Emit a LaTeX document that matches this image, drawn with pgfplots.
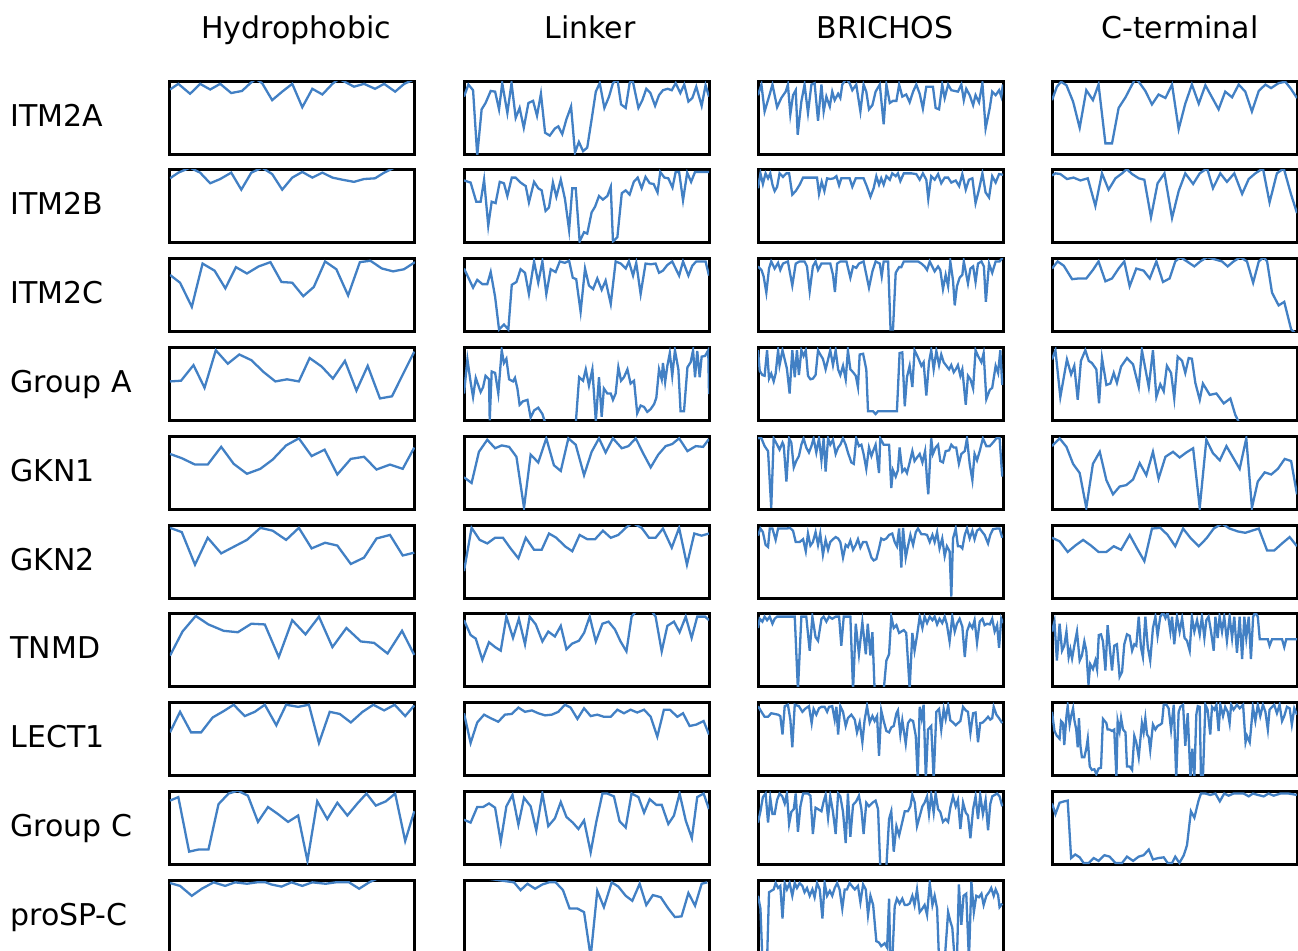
\documentclass[border=0pt]{standalone}
\usepackage{pgfplots}
\pgfplotsset{compat=1.18}
\usepackage{fontspec}
\setmainfont{DejaVu Sans}
\definecolor{lineblue}{RGB}{66,128,196}
\pgfplotsset{panel/.style={width=122.5pt,height=36.5pt,scale only axis,
  xmin=0,xmax=100,ymin=0,ymax=1.03,ticks=none,
  axis line style={line width=1.5pt},clip=true,anchor=north west}}
\newcommand{\panel}[3]{%
\begin{axis}[panel,at={(85pt+147pt*#1,-40.5pt-44.4pt*#2)}]
\addplot[color=lineblue,line width=1.15pt,mark=none] coordinates {#3};
\end{axis}}
\begin{document}
\fontsize{15}{18}\selectfont
\begin{tikzpicture}
\useasboundingbox (0,0) rectangle (649pt,-475pt);
\clip (0,0) rectangle (649pt,-475pt);
% titles
\node[anchor=base,inner sep=0pt] at (148pt,-19pt) {Hydrophobic};
\node[anchor=base,inner sep=0pt] at (295pt,-19pt) {Linker};
\node[anchor=base,inner sep=0pt] at (442.5pt,-19pt) {BRICHOS};
\node[anchor=base,inner sep=0pt] at (590pt,-19pt) {C-terminal};
\foreach \lab [count=\i from 0] in {ITM2A,ITM2B,ITM2C,Group A,GKN1,GKN2,TNMD,LECT1,Group C,proSP-C}{
  \node[anchor=base west,inner sep=0pt] at (5pt,-63pt-44.4pt*\i) {\lab};
}
% ---------- Hydrophobic
\panel{0}{0}{(0,0.91)(3.4,0.99)(8.2,0.85)(12.3,0.99)(16.4,0.91)(20.5,0.99)(25,0.86)(29.4,0.89)(32.8,1.0)(35,1.06)(37.6,1.0)(41.7,0.76)(45.8,0.88)(49.9,0.99)(54.0,0.66)(58.1,0.92)(62.2,0.84)(66.3,0.99)(69,1.06)(72.4,1.0)(75.1,0.95)(79.2,0.99)(83.7,0.92)(87.4,0.99)(91.9,0.88)(95.6,0.99)(100,1.06)}
\panel{0}{1}{(0,0.91)(3.4,0.99)(8.2,1.06)(12.3,0.99)(16.4,0.84)(20.5,0.90)(25,0.99)(29.1,0.75)(33.2,0.99)(37.6,1.06)(41.7,0.97)(45.8,0.75)(49.9,0.92)(54,1.0)(58.1,0.92)(62.2,0.99)(66.3,0.92)(70.4,0.89)(75.1,0.86)(79.2,0.90)(83.7,0.91)(87.4,0.99)(91.5,1.06)(95.6,1.06)(100,1.06)}
\panel{0}{2}{(0,0.80)(4.1,0.69)(8.9,0.35)(13.3,0.96)(18.2,0.86)(22.6,0.61)(26.9,0.91)(31.4,0.82)(36.2,0.92)(41,0.98)(45.5,0.70)(49.9,0.69)(54.4,0.50)(58.7,0.63)(63.3,0.99)(67.9,0.88)(72.7,0.51)(77.5,0.98)(81.8,1.0)(86.5,0.89)(91.1,0.85)(95.5,0.88)(100,0.98)}
\panel{0}{3}{(0,0.55)(4.5,0.56)(9.6,0.78)(14.1,0.46)(18.7,0.99)(23.6,0.80)(28.3,0.93)(33.2,0.85)(38.3,0.68)(43,0.55)(47.8,0.58)(52.6,0.55)(57,0.88)(61.9,0.76)(66.5,0.59)(71.4,0.84)(76.1,0.42)(80.7,0.77)(85.7,0.31)(90.6,0.34)(95.2,0.66)(99.7,0.97)}
\panel{0}{4}{(0,0.78)(4.8,0.72)(10.2,0.63)(15.4,0.63)(20.9,0.88)(26,0.64)(31.4,0.50)(36.9,0.57)(41.9,0.70)(47.4,0.90)(52.6,1.0)(57.8,0.75)(63.1,0.84)(68.3,0.49)(73.8,0.71)(79.2,0.74)(84.3,0.56)(89.8,0.63)(95,0.57)(99.7,0.87)}
\panel{0}{5}{(0,0.99)(4.8,0.93)(10.2,0.47)(15.4,0.85)(20.9,0.63)(26.4,0.73)(31.4,0.82)(36.9,0.99)(41.9,0.95)(47.4,0.82)(52.6,0.99)(57.8,0.70)(63.3,0.78)(68.3,0.74)(73.8,0.48)(79.2,0.57)(84.3,0.84)(89.8,0.89)(95,0.60)(99.7,0.64)}
\panel{0}{6}{(0,0.44)(5.1,0.78)(10.5,1.0)(15.7,0.88)(21.9,0.79)(27.7,0.77)(33.2,0.89)(38.7,0.88)(44.4,0.42)(49.9,0.94)(55.3,0.74)(60.8,0.99)(66.3,0.56)(72,0.83)(77.9,0.64)(83.3,0.62)(88.8,0.47)(94.7,0.79)(99.7,0.45)}
\panel{0}{7}{(0,0.61)(4.1,0.90)(8.6,0.61)(12.7,0.61)(17.4,0.82)(21.9,0.91)(26,1.0)(30.5,0.84)(34.6,0.90)(38.7,1.0)(43.4,0.71)(47.4,1.0)(52.3,0.97)(56.7,1.0)(60.8,0.46)(65.2,0.90)(69.3,0.87)(73.8,0.75)(78.6,0.90)(83,1.0)(87.4,0.92)(91.7,1.0)(96,0.84)(99.7,0.99)}
\panel{0}{8}{(0,0.90)(3.4,0.95)(7.8,0.18)(11.6,0.21)(15.7,0.21)(19.8,0.85)(23.9,1.0)(27.7,1.04)(31.8,0.97)(35.9,0.60)(40,0.81)(44.1,0.71)(48.2,0.60)(52.3,0.69)(56.1,0.05)(60.1,0.89)(64.2,0.64)(68.3,0.87)(72.4,0.69)(76.5,0.86)(80.2,1.0)(84,0.83)(88.1,0.89)(91.9,1.0)(96,0.33)(99.7,0.75)}
\panel{0}{9}{(0,0.99)(4.1,0.95)(8.9,0.81)(13,0.91)(17.8,1.0)(22.5,0.95)(26.6,1.0)(31.4,0.98)(35.5,1.0)(39,1.0)(41.4,0.97)(45.5,0.94)(49.6,1.0)(54,0.95)(58.1,1.0)(63.5,0.98)(67.6,1.0)(73.1,1.0)(77.2,0.91)(81.3,1.0)(85,1.06)(90,1.06)(100,1.06)}
% ---------- Linker
\panel{1}{0}{(0,0.81)(1.8,0.98)(3.7,0.90)(5.4,-0.02)(7.2,0.63)(8.8,0.72)(10.9,0.89)(12.7,0.88)(14.3,0.63)(15.6,1.0)(17.7,0.58)(19.4,1.0)(21.1,0.51)(22.7,0.65)(24.4,0.37)(26.3,0.72)(28.2,0.75)(29.8,0.54)(31.4,0.85)(33.1,0.30)(35,0.26)(37.1,0.36)(38.5,0.39)(40.1,0.28)(41.8,0.49)(43.7,0.67)(45.3,0.02)(46.9,0.17)(48.6,0.04)(50.3,0.09)(52.1,0.49)(53.8,0.88)(55.4,1.0)(57.3,0.65)(59.2,0.81)(60.8,1.0)(62.6,1.06)(64.1,0.70)(66,0.65)(67.6,1.0)(68.7,1.06)(71.2,0.65)(72.8,0.76)(74.4,0.92)(76.1,0.86)(78,0.68)(79.6,0.83)(81.2,0.90)(83.1,0.92)(84.8,0.90)(86.4,1.0)(88.3,0.86)(89.9,0.98)(91.6,0.74)(93.2,0.79)(94.8,0.95)(97,0.68)(98.6,0.97)(100,0.81)}
\panel{1}{1}{(0,0.88)(2.7,0.85)(5,0.58)(6.8,0.58)(8.2,0.89)(9.9,0.24)(11.3,0.58)(12.9,0.56)(14.6,0.86)(16.3,0.84)(17.7,0.66)(19.5,0.92)(21.1,0.92)(23.1,0.85)(25.2,0.80)(26.5,0.57)(28.6,0.86)(30.3,0.77)(31.7,0.74)(33.3,0.45)(34.7,0.50)(36.3,0.85)(37.7,0.65)(39.5,0.89)(41.2,0.62)(42.9,0.18)(44.2,0.77)(45.6,0.77)(47.2,0.02)(49,0.15)(50.3,0.13)(52.1,0.43)(53.5,0.51)(55.1,0.66)(56.7,0.61)(58.5,0.66)(59.9,0.79)(60.8,0.02)(62.6,0.08)(64.4,0.70)(66,0.74)(67.6,0.68)(69.3,0.86)(70.9,0.92)(72.5,0.77)(74.1,0.93)(75.8,0.84)(77.4,0.83)(79,0.71)(80.1,1.0)(81.8,0.92)(83.4,0.91)(85.1,0.78)(86.4,1.0)(87.8,1.0)(89.4,0.60)(91.1,0.99)(92.7,0.86)(94.3,1.0)(100,1.0)}
\panel{1}{2}{(0,0.89)(1.8,0.76)(3.7,0.62)(5.4,0.73)(7.5,0.67)(9.5,0.67)(10.9,0.84)(12.7,0.49)(14.3,0.03)(16.3,0.10)(18.1,0.03)(19.5,0.66)(21.4,0.70)(23.1,0.88)(24.9,0.83)(26.5,0.53)(28.6,0.99)(30.3,0.69)(32,0.99)(33.6,0.53)(35.4,0.88)(37.4,0.84)(39.1,0.99)(41.2,0.97)(42.9,1.0)(44.4,0.76)(45.8,0.74)(47.6,0.28)(49.4,0.89)(51,0.65)(52.7,0.60)(54.4,0.75)(56.2,0.59)(57.8,0.72)(59.9,0.39)(61.9,0.99)(64,0.96)(66,0.89)(67.3,0.99)(69,0.79)(70.3,0.97)(72.1,0.53)(74.1,0.96)(76.2,0.95)(78.2,0.96)(79.6,0.83)(81.2,0.86)(83,0.94)(85,0.99)(87.8,0.79)(89.4,0.99)(91.6,0.79)(93.2,0.93)(94.8,0.99)(98.6,0.99)(100,0.79)}
\panel{1}{3}{(0,0.38)(1.4,0.86)(2.7,0.54)(3.7,0.33)(4.8,0.60)(5.9,0.49)(6.8,0.40)(7.8,0.47)(8.8,0.63)(10.2,0.58)(10.5,0.0)(11.3,0.69)(12.7,0.67)(14,0.38)(15.4,0.99)(16.3,0.81)(17.3,0.87)(18.4,0.58)(20,0.55)(20.8,0.60)(21.8,0.45)(22.7,0.22)(24.1,0.27)(25.9,0.29)(27.2,0.04)(28.6,0.14)(30.3,0.18)(32,0.09)(33.3,-0.05)(40,-0.1)(45.6,-0.05)(47,0.61)(48.6,0.56)(49.7,0.72)(51,0.49)(52.4,0.72)(53.8,-0.01)(55.1,0.61)(56.2,0.05)(57.1,0.45)(58.5,0.38)(59.9,0.38)(60.8,0.29)(61.9,0.38)(63,0.75)(64.1,0.56)(65.3,0.61)(66.7,0.72)(68,0.52)(69.4,0.56)(70.7,0.10)(72.1,0.21)(73.5,0.19)(74.8,0.12)(76.2,0.16)(77.6,0.23)(78.5,0.32)(79.6,0.72)(80.7,0.58)(81.2,0.81)(82.1,0.54)(83,0.77)(84,0.95)(85,0.63)(86.1,0.99)(87.5,0.72)(88.4,0.13)(89.8,0.13)(91.2,0.75)(92.5,0.82)(93.5,0.99)(94.3,0.61)(95.2,0.98)(96.2,0.61)(97,0.90)(98.4,0.91)(99.7,0.99)(100,0.37)}
\panel{1}{4}{(0,0.45)(3.1,0.37)(6.1,0.81)(9.5,0.98)(12.7,0.86)(15.4,0.90)(18.4,0.88)(21.4,0.74)(24.5,0.02)(27.2,0.77)(30.3,0.66)(33.6,1.0)(36.7,0.62)(39.5,0.54)(42.6,1.0)(45.6,0.91)(49,0.48)(52.1,0.81)(55.1,1.0)(57.8,0.80)(60.8,1.0)(64.4,0.86)(67.1,0.89)(70.1,1.0)(73.1,0.79)(76.2,0.59)(79.3,0.77)(82.3,0.89)(85,0.92)(87.8,1.0)(91.2,0.82)(94.6,0.89)(97.6,0.88)(100,0.99)}
\panel{1}{5}{(0,0.38)(3.1,0.99)(6.4,0.82)(9.5,0.77)(12.7,0.85)(15.9,0.85)(19,0.70)(22.2,0.56)(25.2,0.85)(28.6,0.68)(31.7,0.68)(34.7,0.91)(37.7,0.85)(41.2,0.73)(44.2,0.66)(47.2,0.89)(50.3,0.83)(53.5,0.83)(56.7,0.95)(59.9,0.85)(63,0.89)(66,0.99)(68.7,1.06)(72.5,0.99)(75.5,0.85)(78.2,0.85)(81.2,0.98)(84.8,0.71)(87.8,0.99)(91,0.47)(94,0.91)(97,0.88)(100,0.91)}
\panel{1}{6}{(0,0.94)(2.7,0.73)(4.8,0.68)(7.5,0.38)(10.2,0.63)(12.7,0.56)(15,0.51)(17.3,0.99)(20,0.69)(22.4,0.96)(24.9,0.60)(26.8,0.99)(29.3,0.88)(32,0.64)(34.4,0.78)(37.1,0.71)(39.5,0.86)(41.8,0.53)(44.2,0.61)(46.9,0.65)(49,0.76)(51.3,0.99)(53.8,0.64)(56.5,0.89)(59,0.92)(61.6,0.81)(63.9,0.64)(66.3,0.50)(68.4,0.99)(71,1.1)(76,1.1)(78.2,0.99)(80.7,0.50)(83,0.86)(85.7,0.92)(88,0.77)(90.5,0.99)(92.9,0.69)(95.2,0.99)(98.4,0.99)(100,0.94)}
\panel{1}{7}{(0,0.88)(2.7,0.46)(5.4,0.75)(8.2,0.86)(10.9,0.81)(14,0.76)(16.7,0.86)(19.5,0.87)(22.2,0.96)(24.9,0.90)(27.7,0.92)(30.3,0.88)(33.1,0.85)(35.8,0.86)(38.5,0.90)(41.2,1.0)(43.5,0.96)(46.3,0.80)(49,0.95)(51.7,0.84)(54.4,0.86)(57.1,0.83)(59.9,0.83)(62.6,0.93)(65.3,0.88)(68,0.93)(70.7,0.89)(73.5,0.93)(76.2,0.83)(78.9,0.55)(81.6,0.93)(84,0.93)(87.1,0.83)(89.4,0.88)(92.1,0.70)(94.8,0.72)(97.8,0.77)(100,0.58)}
\panel{1}{8}{(0,0.63)(2.7,0.59)(5.4,0.81)(7.8,0.81)(10.2,0.86)(12.7,0.80)(15,0.32)(17.3,0.82)(19.8,0.98)(22.2,0.56)(24.5,0.94)(27.2,0.82)(29.5,0.48)(32,1.0)(34.4,0.54)(37.1,0.65)(39.5,0.88)(41.8,0.67)(44.4,0.59)(46.7,0.50)(49,0.62)(51.7,0.17)(54,0.60)(56.5,1.0)(58.5,1.0)(61.2,0.96)(63.5,0.61)(66,0.52)(68.4,1.0)(71.2,0.95)(73.5,0.73)(75.8,0.92)(78.5,0.84)(80.7,0.84)(83.4,0.57)(85.7,0.69)(88,1.0)(90.5,0.62)(93,0.37)(95.2,0.95)(97.8,1.0)(100,0.78)}
\panel{1}{9}{(0,1.1)(20.4,1.0)(23.1,0.89)(25.9,0.98)(29,0.91)(32,0.97)(34.7,1.0)(37.4,1.0)(40.4,0.89)(43.1,0.63)(46.3,0.63)(49,0.58)(51.7,-0.05)(54.4,0.88)(57.1,0.65)(60.3,1.0)(63,0.94)(66,0.81)(68.7,0.74)(71.7,0.98)(74.4,0.68)(77.1,0.82)(80.3,0.79)(83.4,0.63)(86.1,0.51)(88.8,0.52)(91.6,0.85)(94.3,0.67)(97,0.98)(99.3,1.0)}
% ---------- BRICHOS
\panel{2}{0}{(0,0.83)(1.4,0.98)(2.7,0.60)(4.5,0.81)(5.9,0.98)(7.8,0.66)(9.5,0.79)(11.3,0.88)(12.2,0.98)(13.2,0.56)(14.3,0.83)(15.4,0.90)(16.2,0.27)(17.7,0.74)(19,0.98)(20.4,0.58)(21.8,0.98)(23.1,1.0)(24.5,0.47)(25.9,0.98)(26.8,0.60)(27.9,0.81)(29.3,0.67)(30.3,0.88)(31.3,0.76)(32.7,0.85)(33.6,0.79)(34.4,0.98)(36,1.06)(37.4,1.0)(38.5,0.90)(40.1,0.98)(41.8,0.60)(43.1,0.98)(44.2,0.88)(45.3,0.63)(46.7,0.69)(48,0.88)(49.7,0.98)(51.3,0.42)(52.4,0.98)(53.8,0.72)(55.1,0.75)(56.5,0.75)(57.6,0.98)(58.9,0.81)(60.5,0.84)(61.9,0.73)(63.3,0.88)(64.6,0.98)(66,0.85)(67.3,0.64)(68.7,0.95)(70.1,0.95)(71.4,0.95)(72.5,0.65)(73.9,0.63)(75.2,0.98)(76.2,0.79)(77.6,0.98)(78.9,0.90)(80.3,0.89)(81.6,0.88)(83,0.98)(84,0.76)(85,0.92)(86.4,0.83)(87.8,0.69)(88.8,0.83)(90.2,0.73)(91.6,1.0)(92.9,0.36)(94.6,0.65)(95.6,0.88)(97,0.83)(98.4,0.90)(99.3,0.81)(100,0.98)}
\panel{2}{1}{(0,0.77)(1,0.98)(2,0.83)(3.1,0.98)(4.1,0.91)(5,0.98)(5.9,0.82)(6.8,0.73)(7.8,0.79)(8.8,0.98)(10.2,0.93)(11.6,0.98)(12.7,0.98)(14,0.68)(15.4,0.73)(17,0.82)(18.4,0.92)(20.4,0.92)(22.4,0.92)(24.1,0.92)(24.9,0.69)(26,0.86)(27.1,0.73)(28.2,0.91)(29.5,0.90)(30.9,0.91)(32,0.94)(33.1,0.81)(34,0.91)(35.4,0.91)(37.4,0.91)(38.5,0.79)(39.9,0.91)(41.5,0.91)(43.1,0.91)(44.5,0.79)(45.9,0.65)(47.2,0.77)(48.3,0.94)(49.4,0.82)(50.3,0.91)(51.3,0.82)(52.4,0.94)(53.8,0.89)(54.8,0.98)(56.2,0.94)(57.1,0.98)(58.1,0.87)(59.5,0.98)(62.6,0.98)(64.6,0.97)(66,0.89)(67.3,0.98)(68.7,0.89)(69.5,0.62)(70.7,0.94)(72.1,0.89)(73.5,0.97)(74.8,0.84)(76.2,0.92)(77.6,0.92)(78.9,0.85)(80.7,0.88)(82.1,0.80)(83.4,0.97)(84.8,0.75)(86.1,0.89)(87.5,0.91)(88.8,0.56)(90.2,0.75)(91.6,0.98)(92.9,0.71)(94.3,0.64)(95.6,0.94)(97,0.85)(98.4,0.97)(100,0.96)}
\panel{2}{2}{(0,0.92)(1.4,0.87)(2.3,0.78)(3.4,0.55)(4.5,0.89)(5.4,0.99)(6.8,0.89)(8.2,0.97)(9.1,0.87)(10.2,0.96)(12.2,0.99)(14,0.65)(15.4,0.96)(17,0.99)(19,0.99)(20,0.92)(21.1,0.57)(22.4,0.92)(23.5,0.99)(24.5,0.87)(25.9,0.96)(27.6,0.96)(29.5,0.96)(30.6,0.80)(31.4,0.56)(32.3,0.96)(33.6,0.99)(36.1,0.99)(37.7,0.76)(38.8,0.92)(40.1,0.90)(41.2,0.96)(43.1,0.99)(45.3,0.62)(46.7,0.85)(48,0.99)(49.7,0.96)(50.5,0.78)(51.3,0.99)(53.1,0.99)(54.1,0.03)(55.1,0.03)(56.2,0.83)(57.6,0.91)(58.5,0.91)(59.5,0.99)(61.2,0.99)(63.3,0.99)(65.3,0.99)(66.7,0.96)(68,0.92)(69,0.87)(70.1,0.99)(72.1,0.85)(73.5,0.92)(74.4,0.87)(75.5,0.60)(76.6,0.80)(77.6,0.64)(78.5,0.99)(79.6,0.72)(80.3,0.37)(81.2,0.64)(82.3,0.76)(83.4,0.80)(84,0.99)(85.7,0.68)(86.7,0.89)(87.8,0.92)(88.8,0.70)(89.8,0.96)(91.2,0.99)(92.2,0.92)(93,0.42)(94.3,0.96)(95.6,0.83)(97,0.99)(98.6,0.99)(100,1.05)}
\panel{2}{3}{(0,0.99)(0.7,0.70)(1.8,0.64)(2.7,0.63)(3.7,0.99)(4.5,0.59)(5.4,0.66)(6.4,0.55)(7.2,0.66)(8.2,0.99)(8.8,0.78)(10,0.99)(10.9,0.86)(11.8,0.73)(12.9,0.38)(14,0.99)(15,0.61)(15.9,0.99)(16.7,0.64)(17.7,0.99)(18.6,0.91)(19.5,0.99)(20.4,0.63)(21.4,0.58)(22.4,0.59)(23.5,0.64)(24.5,0.99)(25.4,0.93)(26.5,0.87)(27.6,0.72)(28.6,0.86)(29.5,0.99)(30.6,0.78)(31.7,0.99)(32.7,0.72)(33.6,0.64)(34.7,0.77)(35.8,0.58)(36.7,0.99)(37.7,0.72)(38.8,0.68)(39.9,0.63)(40.8,0.47)(41.5,0.93)(42.9,0.94)(44.2,0.72)(44.9,0.13)(46.9,0.13)(48,0.09)(49,0.13)(52.4,0.13)(56.7,0.13)(57.8,0.95)(58.9,0.96)(59.9,0.20)(60.8,0.61)(61.9,0.77)(63,0.47)(63.9,0.99)(65.3,0.89)(66.7,0.77)(67.6,0.82)(68.7,0.35)(69.8,0.82)(70.7,0.99)(71.7,0.72)(72.8,0.98)(73.9,0.78)(74.8,0.93)(75.8,0.82)(76.9,0.77)(78,0.72)(78.9,0.78)(79.9,0.68)(80.7,0.72)(81.6,0.78)(82.6,0.63)(83.4,0.72)(84.8,0.22)(85.7,0.63)(86.7,0.58)(87.8,0.45)(88.8,0.99)(89.8,0.91)(91.2,0.82)(92.1,0.95)(93.2,0.30)(94.6,0.43)(95.6,0.46)(97,0.77)(98,0.67)(98.9,0.99)(99.7,0.50)}
\panel{2}{4}{(0,1.0)(1.4,1.0)(2.7,0.89)(4.1,0.82)(5.4,0.02)(6.4,1.0)(7.8,0.91)(8.8,0.84)(10,0.94)(10.5,0.90)(11.6,0.39)(12.7,1.0)(13.6,0.94)(14.6,0.59)(15.6,0.68)(16.7,0.75)(17.7,0.91)(18.6,1.0)(19.7,0.87)(20.8,0.80)(21.8,0.89)(22.7,1.0)(23.8,0.80)(24.9,1.0)(25.9,0.69)(26.8,1.0)(27.6,0.53)(28.6,1.0)(29.5,0.91)(30.6,0.98)(31.7,0.78)(32.7,0.87)(33.6,0.91)(34.7,1.0)(35.8,0.91)(36.7,0.80)(38.1,0.66)(39.1,0.64)(40.1,1.0)(41.2,0.89)(42.2,0.91)(43.1,0.78)(44.2,0.57)(45.3,0.87)(46.3,0.75)(47.2,0.84)(48,0.91)(49.4,0.51)(49.9,1.0)(51.3,0.91)(52.4,0.91)(53.5,0.91)(54.4,0.30)(55.1,0.55)(56.2,0.46)(57.1,0.55)(57.8,0.87)(58.9,0.53)(59.9,0.57)(60.8,0.51)(61.9,0.66)(63,0.82)(63.9,0.68)(64.9,0.73)(66,0.78)(67.1,0.66)(68.2,0.82)(69,0.41)(69.5,0.21)(70.7,1.0)(71.4,0.78)(72.5,0.87)(73.5,0.91)(74.4,0.68)(75.5,0.66)(76.6,0.82)(78,0.83)(78.9,0.91)(79.9,0.87)(80.9,0.87)(82,0.64)(83,0.78)(84.4,0.82)(85.3,1.0)(86.4,0.64)(87.5,0.41)(88.4,0.78)(89.4,0.69)(90.5,0.82)(91.8,1.0)(93.2,0.89)(94.6,0.89)(95.9,0.94)(97.3,1.0)(98.6,1.0)(99.7,0.46)}
\panel{2}{5}{(0,0.88)(1,0.98)(2,0.93)(3.1,0.75)(4.1,0.72)(4.8,0.98)(5.9,0.98)(7.2,0.82)(8.2,0.98)(9.5,0.98)(11.6,0.98)(13,0.99)(14.3,0.95)(15.4,0.79)(17,0.79)(18.4,0.83)(19.5,0.66)(20.4,0.91)(21.4,0.74)(22.4,0.79)(23.5,0.93)(24.5,0.75)(25.4,0.91)(26.5,0.61)(27.6,0.82)(28.6,0.68)(29.5,0.79)(30.6,0.83)(31.7,0.86)(32.7,0.84)(33.6,0.79)(34.7,0.57)(35.8,0.75)(36.7,0.72)(37.7,0.81)(38.8,0.68)(39.9,0.75)(40.8,0.83)(41.8,0.71)(42.9,0.79)(44.2,0.79)(45.3,0.68)(46.3,0.57)(47.2,0.53)(48.3,0.55)(49.4,0.70)(50.3,0.84)(51.3,0.82)(52.4,0.84)(53.5,0.89)(54.8,0.91)(55.8,0.79)(56.7,0.73)(57.6,0.98)(58.5,0.43)(59.2,0.99)(60.3,0.57)(61.2,0.73)(62.2,0.89)(63.3,0.75)(64.4,0.93)(65.3,0.98)(66.7,0.90)(68,0.90)(69,0.89)(70.1,0.79)(71.2,0.89)(72.1,0.79)(73.1,0.93)(74.1,0.70)(75.2,0.84)(76.2,0.59)(77.1,0.73)(78.2,0.66)(78.9,0.02)(79.6,0.84)(80.7,0.98)(81.6,0.73)(82.6,0.73)(83.4,0.70)(84.4,0.89)(85.3,0.98)(86.4,0.84)(87.5,0.95)(88.4,0.83)(89.4,0.95)(90.5,0.98)(91.6,0.93)(92.5,0.89)(93.9,0.77)(94.8,0.89)(95.9,0.97)(97.3,0.98)(98.6,0.98)(99.7,0.85)}
\panel{2}{6}{(0,0.83)(0.7,0.96)(1.8,0.92)(2.7,0.99)(3.7,0.94)(4.8,0.99)(5.9,0.89)(6.8,0.96)(7.8,0.99)(8.8,0.99)(10,0.99)(10.9,0.99)(12.2,0.99)(13.6,0.99)(15,0.99)(16.3,-0.05)(17.7,0.99)(19.7,0.99)(21.1,0.51)(22.2,0.99)(23.5,0.70)(24.5,0.65)(25.9,0.96)(26.8,0.99)(27.9,0.92)(29,0.99)(30.3,0.96)(31.7,0.99)(33.1,0.99)(34,0.58)(35,0.99)(36.3,0.99)(37.7,0.99)(38.8,-0.05)(39.9,0.89)(41.2,0.46)(42.6,0.91)(44,0.46)(44.8,0.89)(45.9,0.44)(46.7,0.77)(47.6,-0.05)(51.3,-0.05)(52.4,0.37)(53.5,0.46)(54.4,0.99)(55.4,0.83)(56.5,0.87)(57.6,0.76)(58.5,0.78)(59.5,0.80)(60.5,0.76)(61.9,-0.03)(63,0.76)(63.9,0.51)(64.9,0.72)(66,0.99)(67.1,0.83)(68,0.99)(69,0.90)(70.1,0.99)(71.2,0.94)(72.1,0.99)(73.1,0.88)(74.1,0.96)(75.2,0.90)(76.2,0.99)(77.1,0.88)(78.2,0.64)(79.3,0.99)(80.3,0.78)(81.2,0.89)(82.3,0.96)(83.4,0.85)(84.4,0.42)(85.3,0.78)(86.4,0.89)(87.5,0.83)(88.4,0.94)(89.4,0.62)(90.5,0.92)(91.6,0.96)(92.5,0.87)(93.5,0.89)(94.6,0.88)(95.6,0.96)(96.6,0.78)(97.6,0.87)(98.4,0.55)(99.3,0.96)(100,0.9)}
\panel{2}{7}{(0,0.98)(1.4,0.90)(2.7,0.83)(4.1,0.83)(5.4,0.88)(6.8,0.87)(8.2,0.86)(9.1,0.84)(10,0.58)(10.9,0.98)(12.2,1.0)(13.2,0.79)(14,0.40)(15,1.0)(16.7,0.98)(18.1,0.90)(19.5,0.95)(20.8,0.98)(21.9,0.74)(22.7,0.94)(23.8,0.86)(24.9,0.95)(25.9,0.97)(27.2,0.97)(28.2,0.90)(29,0.97)(30.3,0.98)(31.3,0.79)(32,0.97)(32.7,0.58)(33.6,0.98)(34.7,0.90)(35.8,0.70)(36.7,0.81)(38.1,0.86)(39.5,0.79)(40.4,0.61)(41.5,0.75)(42.6,0.47)(43.5,0.78)(44.5,0.98)(45.6,0.75)(46.7,0.84)(47.6,0.77)(48.6,0.84)(49.4,0.28)(50.3,0.92)(51.3,0.77)(52.4,0.63)(53.5,0.61)(54.4,0.68)(55.4,0.70)(56.5,0.88)(57.1,0.92)(58.1,0.58)(58.9,0.78)(60.3,0.45)(61.2,0.74)(62.2,0.79)(63.3,0.77)(64.4,0.56)(65.2,-0.05)(66,0.97)(66.8,0.81)(67.6,1.0)(68.5,-0.05)(69.4,0.65)(70.7,0.70)(71.7,-0.05)(72.8,0.90)(73.9,0.94)(74.8,0.65)(75.8,0.94)(76.6,0.80)(77.6,0.99)(78.5,0.78)(79.6,0.75)(80.7,0.71)(81.6,0.74)(82.6,0.77)(83.7,0.97)(84.8,0.92)(85.7,0.90)(86.7,0.60)(87.8,0.88)(88.8,0.89)(89.8,0.47)(90.7,0.74)(91.8,0.75)(92.9,0.79)(93.9,0.83)(94.8,0.79)(95.6,0.81)(96.2,0.97)(97.3,0.86)(98.4,0.81)(99.7,0.74)}
\panel{2}{8}{(0,0.59)(1,0.75)(2,0.95)(3.1,1.0)(4.1,0.59)(5,0.94)(5.9,0.71)(6.8,0.71)(7.8,0.91)(8.8,1.0)(9.9,0.96)(10.9,0.86)(11.8,1.0)(12.7,0.57)(13.6,0.74)(14.6,0.78)(15.4,1.0)(16.3,0.46)(17.3,0.82)(18.4,1.0)(19.5,1.0)(20.4,1.0)(21.4,0.97)(22.4,0.43)(23.5,0.80)(24.5,0.78)(25.9,0.75)(26.8,0.89)(27.6,0.98)(28.6,0.66)(29.5,0.96)(30.6,0.74)(31.7,0.43)(32.7,1.0)(33.6,0.96)(34.7,0.74)(35.8,0.30)(36.7,1.0)(37.7,0.39)(38.8,0.84)(40.1,0.89)(41.2,0.97)(42.2,0.78)(43.1,0.43)(44.2,0.87)(45.3,0.82)(46.7,0.87)(48,0.90)(49,0.78)(49.9,-0.03)(51.3,-0.03)(52.4,-0.03)(53.5,0.64)(54.4,0.75)(55.4,0.18)(56.5,0.54)(57.6,0.41)(58.5,0.54)(59.9,0.75)(61.2,0.75)(62.2,0.82)(63,0.98)(64,0.87)(64.9,0.54)(66,0.68)(67.1,0.82)(68,0.87)(69,0.96)(69.8,0.71)(70.7,0.98)(71.7,0.73)(72.5,1.0)(73.5,0.78)(74.4,0.74)(75.5,0.60)(76.6,0.64)(77.6,0.60)(78.5,0.80)(79.6,0.96)(80.7,0.82)(81.6,0.91)(82.6,0.50)(83.7,0.87)(84.8,0.73)(85.7,0.69)(86.7,0.37)(87.8,0.78)(88.8,0.96)(89.8,0.64)(90.7,0.98)(91.8,0.71)(92.9,0.91)(93.9,0.48)(94.8,0.85)(95.6,0.96)(96.6,0.98)(97.6,1.0)(98.6,0.96)(99.7,0.82)}
\panel{2}{9}{(0,0.81)(1,0.63)(1.8,-0.1)(2.7,-0.1)(3.7,-0.1)(4.5,0.86)(5.4,0.88)(6.4,0.90)(7.2,0.99)(8.2,0.92)(9.1,0.95)(10,0.49)(10.9,0.99)(11.8,0.90)(12.9,0.99)(14,0.81)(15,0.99)(15.9,0.92)(17,0.99)(18.1,0.95)(19,0.86)(20,0.92)(21.1,0.81)(22.2,0.90)(23.1,0.79)(24.1,0.99)(25.2,0.90)(26.3,0.49)(27.2,0.99)(28.2,0.81)(29.3,0.88)(30.3,0.81)(31.3,0.92)(32.3,0.99)(33.3,0.90)(34.4,0.63)(35.4,0.90)(36.3,0.90)(37.4,0.99)(38.5,0.94)(39.5,0.90)(40.8,0.95)(41.8,0.72)(42.9,0.97)(44,0.90)(44.9,0.54)(45.9,0.81)(47,0.68)(48.3,0.17)(49.4,0.15)(50.3,0.10)(51.7,0.14)(52.7,0.08)(53.5,0.77)(54,-0.1)(54.8,-0.1)(55.8,0.66)(56.7,0.77)(57.8,0.70)(58.9,0.77)(59.9,0.68)(60.8,0.68)(61.9,0.70)(63,0.81)(63.9,0.68)(64.9,0.90)(66,0.58)(67.1,0.63)(68,0.68)(69,0.54)(70.1,0.99)(71.2,0.68)(72.1,0.81)(73.1,0.63)(73.9,-0.1)(74.8,-0.1)(76.2,-0.1)(77.6,0.58)(78.5,0.45)(79.3,0.36)(80.3,-0.1)(81.2,-0.1)(82,0.97)(83,0.40)(83.9,0.81)(85,0.84)(86.1,-0.1)(87.1,1.01)(88.1,0.58)(89.1,0.81)(90.2,0.79)(91.2,0.84)(92.1,0.68)(93.2,0.81)(94.3,0.86)(95.2,0.92)(96.2,0.81)(97,0.90)(98,0.82)(98.6,0.65)(99.7,0.70)}
% ---------- C-terminal
\panel{3}{0}{(0,0.76)(2,0.95)(3.7,1.02)(5.9,0.97)(8.6,0.74)(11.3,0.37)(14,0.90)(16.7,0.76)(19,0.98)(21.8,0.15)(24.5,0.15)(27.2,0.65)(30,0.80)(32.7,0.98)(34,1.06)(35.4,1.02)(38.1,0.89)(40.8,0.70)(43.5,0.84)(46.3,0.79)(49,0.98)(51.7,0.35)(54.4,0.71)(57.1,0.98)(59.9,0.71)(62.6,0.97)(65.3,0.80)(68,0.63)(70.7,0.88)(73.5,0.80)(76.2,0.98)(78.9,0.88)(81.6,0.60)(84.4,0.89)(87.1,0.98)(89.4,0.93)(92.5,1.0)(95.2,1.02)(97.3,0.93)(100,0.79)}
\panel{3}{1}{(0,0.95)(1.4,0.98)(3.4,0.97)(6.1,0.90)(8.8,0.92)(11.6,0.88)(14.6,0.91)(17.7,0.52)(20.4,0.98)(23.1,0.75)(25.9,0.91)(28.6,0.98)(30.5,1.04)(32.7,0.97)(35.4,0.91)(37.7,0.89)(40.4,0.36)(43.1,0.84)(45.9,0.98)(49,0.35)(51.7,0.73)(54.4,0.98)(57.6,0.83)(60.3,0.98)(63.3,1.05)(65.7,0.77)(68.7,0.98)(71.4,0.86)(74.4,0.98)(77.6,0.69)(80.3,0.90)(83,0.98)(86.1,1.05)(88.8,0.57)(91.8,0.98)(94.6,1.05)(97.6,0.68)(100,0.42)}
\panel{3}{2}{(0,0.89)(2.3,0.99)(4.8,0.93)(8.2,0.74)(10.9,0.75)(14,0.75)(16.7,0.87)(19,0.99)(21.8,0.71)(24.5,0.75)(27.2,0.89)(29.5,0.99)(31.7,0.64)(34.4,0.89)(37.4,0.86)(39.9,0.75)(42.6,0.99)(45.3,0.70)(48,0.75)(50.3,0.99)(52.4,1.05)(55.1,0.99)(58.1,0.92)(60.5,0.99)(63.3,1.05)(69.4,0.99)(71.7,0.92)(74.1,0.99)(76.9,1.05)(79.6,0.99)(82.1,0.69)(84.4,0.99)(86.4,1.05)(87.8,0.99)(89.8,0.55)(92.5,0.37)(94.8,0.42)(97.6,0.03)(98.6,0.0)(100,-0.05)}
\panel{3}{3}{(0,0.86)(1.4,0.99)(3.4,0.33)(6.1,0.86)(7.8,0.65)(9.1,0.77)(10.5,0.29)(11.8,0.84)(13.6,0.99)(15,0.84)(16.3,0.81)(18.1,0.72)(19.2,0.24)(20.4,0.88)(22.2,0.50)(23.8,0.52)(25.2,0.67)(26.5,0.53)(28.2,0.76)(30.6,0.88)(33.1,0.79)(35.4,0.47)(36.7,0.99)(39.5,0.47)(41.2,0.99)(42.6,0.33)(44.2,0.51)(45.6,0.41)(46.9,0.77)(48.6,0.67)(49.9,0.31)(51.3,0.90)(53.1,0.84)(54.4,0.67)(55.8,0.88)(57.1,0.87)(58.5,0.53)(60.3,0.29)(61.6,0.52)(64.4,0.36)(67.1,0.38)(70.1,0.24)(72.8,0.31)(74.8,0.08)(76.2,-0.02)(77,-0.1)}
\panel{3}{4}{(0,0.89)(3.1,1.0)(5.9,0.88)(8.6,0.64)(11.3,0.51)(14,0.02)(16.7,0.64)(19.5,0.81)(22.2,0.41)(24.9,0.21)(27.6,0.32)(30.3,0.34)(33.1,0.42)(35.8,0.65)(38.5,0.48)(41.2,0.81)(43.5,0.43)(46.3,0.74)(49.4,0.81)(52.1,0.73)(54.8,0.80)(57.6,0.86)(60.3,0.02)(63,0.98)(65.7,0.79)(68.5,0.69)(71.2,0.89)(73.9,0.73)(76.6,0.57)(79.3,1.0)(81.6,0.02)(84,0.39)(86.8,0.52)(89.5,0.49)(92.2,0.57)(95,0.71)(97.6,0.68)(100,0.21)}
\panel{3}{5}{(0,0.85)(3.1,0.80)(6.4,0.65)(9.5,0.74)(12.7,0.82)(15.9,0.74)(19,0.65)(22.2,0.65)(25.2,0.73)(28.2,0.68)(31.7,0.89)(34.7,0.70)(37.7,0.52)(40.8,0.98)(44.2,0.99)(47.2,0.89)(50.3,0.73)(53.5,0.98)(56.7,0.84)(59.9,0.73)(63,0.84)(66,0.98)(69.4,1.05)(72.5,0.98)(75.8,0.94)(78.9,0.92)(81.6,0.95)(84.4,0.98)(87.8,0.67)(90.7,0.67)(93.9,0.77)(97,0.86)(100,0.73)}
\panel{3}{6}{(0,0.78)(1,0.92)(2,0.37)(3.1,0.89)(4.1,0.51)(5,0.58)(5.9,0.78)(6.8,0.42)(7.5,0.53)(8.2,0.40)(9.1,0.58)(10.2,0.78)(11.3,0.37)(12.2,0.44)(13.2,0.64)(14,0.51)(14.9,0.03)(15.6,0.32)(16.7,0.25)(17.7,0.37)(18.4,0.25)(19.1,0.73)(20,0.74)(20.8,0.64)(21.8,0.23)(22.7,0.87)(23.5,0.58)(24.5,0.23)(25.4,0.58)(26.5,0.60)(27.6,0.14)(28.6,0.21)(29.5,0.60)(30.6,0.74)(31.7,0.72)(32.7,0.51)(33.6,0.60)(34.4,0.58)(35.4,0.99)(36.3,0.56)(37.1,0.42)(38.1,0.99)(39.1,0.56)(40.1,0.37)(41.2,0.83)(42.2,0.99)(43.1,0.72)(44.2,0.99)(45.3,1.05)(46.3,0.97)(47.2,1.05)(48.3,0.78)(49,0.99)(49.9,0.60)(51,0.99)(52.1,0.78)(53.1,0.97)(54.1,0.69)(55.1,0.65)(56.2,0.51)(57.1,0.99)(58.1,0.78)(59.2,0.94)(60.3,0.74)(61.2,0.99)(62.2,0.69)(63,0.94)(63.9,0.99)(64.9,0.78)(66,0.51)(66.7,0.99)(67.6,0.69)(68.4,0.99)(69.4,0.78)(70.3,0.99)(71.4,0.65)(72.5,0.99)(73.5,0.69)(74.4,0.99)(75.5,0.48)(76.6,0.99)(77.6,0.39)(78.5,0.99)(79.3,0.69)(80.3,0.99)(81.2,0.39)(82.1,0.99)(83,1.05)(84,0.99)(84.8,0.67)(86.4,0.67)(88.1,0.67)(88.8,0.58)(89.8,0.67)(91.8,0.67)(93.9,0.67)(94.8,0.56)(95.6,0.67)(98.6,0.67)(100,0.67)}
\panel{3}{7}{(0,0.90)(1,0.63)(2,0.56)(3.1,0.52)(3.7,0.77)(4.5,0.74)(5,0.43)(5.9,0.84)(6.4,0.98)(7.2,0.72)(7.8,0.84)(8.6,0.95)(9.1,0.79)(9.9,0.65)(10.5,0.40)(11,0.81)(11.6,0.42)(12.2,0.26)(13.2,0.26)(14,0.38)(14.6,0.52)(15.4,0.13)(16.3,0.08)(17.3,0.09)(18.1,0.02)(19,0.10)(20,0.11)(20.8,0.80)(22.2,0.74)(22.7,0.65)(23.5,0.65)(24.5,0.63)(25.4,0.65)(26.3,-0.02)(26.8,0.77)(27.6,0.63)(28.2,0.81)(29,0.65)(30,0.61)(30.6,0.13)(31.7,0.13)(32.7,0.08)(33.6,0.56)(34.4,0.47)(35.4,0.26)(36.1,0.52)(36.7,0.74)(37.4,0.61)(38.1,0.81)(38.8,0.58)(39.5,0.54)(40.1,0.36)(41.2,0.72)(42.2,0.65)(43.1,0.70)(44.2,0.72)(44.9,0.74)(45.6,1.0)(46.7,1.0)(47.6,0.95)(48.6,0.65)(49.7,1.0)(50.7,-0.03)(51.7,0.90)(52.4,0.97)(53.5,1.0)(54.4,0.42)(55.4,0.88)(56.5,-0.03)(57.3,0.38)(58.1,-0.03)(58.9,0.86)(59.5,0.98)(60.3,0.97)(60.8,-0.03)(61.6,-0.03)(62.6,1.0)(63.5,0.93)(64.6,0.58)(65.3,0.97)(66.3,0.93)(67.1,1.0)(68,0.63)(68.7,1.0)(69.8,0.84)(70.7,0.97)(71.7,0.90)(72.5,0.74)(73.1,1.0)(74.1,0.93)(75.5,1.0)(76.6,0.95)(78,1.0)(79,0.47)(79.6,0.56)(80.7,0.47)(81.2,0.65)(82,0.97)(83,0.77)(84,1.0)(85,0.84)(86.1,1.0)(87.1,0.90)(88.1,0.65)(88.8,0.93)(89.8,0.97)(90.7,1.0)(91.8,0.88)(92.9,1.0)(93.9,0.77)(94.8,0.84)(95.9,0.97)(97,0.95)(97.9,0.72)(98.9,0.95)(100,0.86)}
\panel{3}{8}{(0,0.86)(1.4,0.71)(3.1,0.87)(5,0.89)(6.4,0.90)(7.8,0.09)(9.5,0.14)(11.3,0.10)(12.9,0.02)(15,0.02)(17,0.09)(19,0.05)(21.4,0.13)(23.5,0.11)(25.9,0.02)(28.6,0.02)(30.6,0.11)(33.1,0.05)(35.4,0.11)(37.4,0.13)(39.5,0.21)(41.2,0.07)(43.5,0.09)(45.6,0.10)(47.2,0.02)(49,0.02)(50.3,0.11)(52,0.02)(53.8,0.13)(55.1,0.27)(56.7,0.75)(58.1,0.66)(59.9,0.91)(60.8,1.0)(62.6,1.0)(64.6,0.98)(66.7,1.0)(68.5,0.89)(70.3,1.0)(72.1,0.97)(74.1,1.0)(76.2,1.0)(78.2,1.0)(80.3,0.96)(82,1.0)(84,0.98)(86.4,0.96)(88.4,1.0)(90.5,0.97)(93.2,1.0)(96.6,1.0)(100,0.98)}
\end{tikzpicture}
\end{document}
